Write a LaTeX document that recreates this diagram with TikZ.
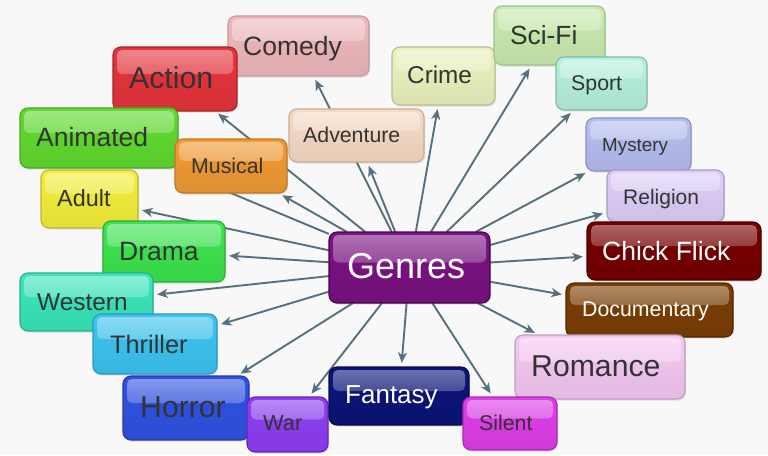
\documentclass[tikz,border=0pt]{standalone}
\usepackage{fontspec}
\setmainfont{Liberation Sans}
\usetikzlibrary{arrows.meta,shadows}
\definecolor{bgc}{HTML}{F8F8F8}
\definecolor{arrc}{HTML}{56707E}
\definecolor{txtd}{HTML}{333333}
\definecolor{cComedy}{HTML}{EEB8BC}\definecolor{bComedy}{HTML}{C49A9E}
\definecolor{cAction}{HTML}{E6343C}\definecolor{bAction}{HTML}{A82428}
\definecolor{cAnimated}{HTML}{60DA2E}\definecolor{bAnimated}{HTML}{48A828}
\definecolor{cMusical}{HTML}{F09A34}\definecolor{bMusical}{HTML}{BE7628}
\definecolor{cAdventure}{HTML}{F6DAC4}\definecolor{bAdventure}{HTML}{C8AC96}
\definecolor{cAdult}{HTML}{F4EE3A}\definecolor{bAdult}{HTML}{BDB440}
\definecolor{cDrama}{HTML}{3CE44E}\definecolor{bDrama}{HTML}{2EAA3C}
\definecolor{cWestern}{HTML}{3AE6BA}\definecolor{bWestern}{HTML}{2AAE8C}
\definecolor{cThriller}{HTML}{3CC4F0}\definecolor{bThriller}{HTML}{2C96C0}
\definecolor{cHorror}{HTML}{3052E2}\definecolor{bHorror}{HTML}{2438A8}
\definecolor{cWar}{HTML}{8E3EF2}\definecolor{bWar}{HTML}{6428B8}
\definecolor{cFantasy}{HTML}{0C1478}\definecolor{bFantasy}{HTML}{060A48}
\definecolor{cSilent}{HTML}{DE3EE8}\definecolor{bSilent}{HTML}{A82AB0}
\definecolor{cRomance}{HTML}{F4C8F2}\definecolor{bRomance}{HTML}{C29CC0}
\definecolor{cDocumentary}{HTML}{7A3E04}\definecolor{bDocumentary}{HTML}{4E2600}
\definecolor{cChick}{HTML}{760000}\definecolor{bChick}{HTML}{4A0000}
\definecolor{cReligion}{HTML}{DECEF8}\definecolor{bReligion}{HTML}{A898CC}
\definecolor{cMystery}{HTML}{B6BEF0}\definecolor{bMystery}{HTML}{8890C4}
\definecolor{cSport}{HTML}{B6F0DE}\definecolor{bSport}{HTML}{84B8A8}
\definecolor{cSciFi}{HTML}{CAEAAE}\definecolor{bSciFi}{HTML}{9CC090}
\definecolor{cCrime}{HTML}{ECF2BE}\definecolor{bCrime}{HTML}{B8BE94}
\definecolor{cGenres}{HTML}{7A1282}\definecolor{bGenres}{HTML}{48004E}
\newcommand\fsSmall{\fontsize{21.3}{24}\selectfont}
\newcommand\fsMid{\fontsize{26.5}{30}\selectfont}
\newcommand\fsBig{\fontsize{30.2}{34}\selectfont}
\tikzset{
  gbox/.style 2 args={rounded corners=8pt, draw=#2, line width=1.1pt,
    top color=#1, bottom color=#1!93!black, inner sep=0pt,
    drop shadow={shadow xshift=1.2pt, shadow yshift=-1.5pt, opacity=0.2},
    path picture={\shade[top color=white, bottom color=#1, opacity=0.42, rounded corners=5pt]
      ([shift={(4pt,-3pt)}]path picture bounding box.north west) rectangle
      ([shift={(-4pt,5pt)}]path picture bounding box.east);}},
  lbl/.style={anchor=base west, inner sep=0pt, text=txtd},
  lblw/.style={anchor=base west, inner sep=0pt, text=white},
  conn/.style={draw=arrc, line width=1.9pt, shorten >=4pt,
    -{Stealth[length=10.5pt, width=9pt, inset=3pt]}},
}
\begin{document}
\begin{tikzpicture}[x=1pt, y=-1pt]
\fill[bgc] (0,0) rectangle (768,455);
\useasboundingbox (0,0) rectangle (768,455);
\path (409.5,267.5) coordinate (gc);
\node[minimum width=161pt, minimum height=71pt, inner sep=0pt] (G) at (gc) {};
\coordinate (cComedyP) at (298.5,46);
\coordinate (cActionP) at (175,79);
\coordinate (cAnimatedP) at (99,138);
\coordinate (cMusicalP) at (231,166);
\coordinate (cAdventureP) at (356.5,135.5);
\coordinate (cAdultP) at (89.5,199);
\coordinate (cDramaP) at (164,251.5);
\coordinate (cWesternP) at (86.5,302);
\coordinate (cThrillerP) at (155,344);
\coordinate (cHorrorP) at (186,408);
\coordinate (cWarP) at (287.5,424.5);
\coordinate (cFantasyP) at (399,396);
\coordinate (cSilentP) at (510,423.5);
\coordinate (cRomanceP) at (600,367);
\coordinate (cDocP) at (649.5,310);
\coordinate (cChickP) at (674,251);
\coordinate (cReligionP) at (665.5,196);
\coordinate (cMysteryP) at (638.5,144.5);
\coordinate (cSportP) at (601.5,83.5);
\coordinate (cSciFiP) at (549.5,35.5);
\coordinate (cCrimeP) at (443.5,76);
\begin{scope}[every node/.style={inner sep=0pt}]
\node[minimum width=141pt, minimum height=60pt] (nComedy) at (cComedyP) {};
\node[minimum width=124pt, minimum height=64pt] (nAction) at (cActionP) {};
\node[minimum width=158pt, minimum height=60pt] (nAnimated) at (cAnimatedP) {};
\node[minimum width=112pt, minimum height=54pt] (nMusical) at (cMusicalP) {};
\node[minimum width=135pt, minimum height=53pt] (nAdventure) at (cAdventureP) {};
\node[minimum width=97pt, minimum height=58pt] (nAdult) at (cAdultP) {};
\node[minimum width=122pt, minimum height=61pt] (nDrama) at (cDramaP) {};
\node[minimum width=133pt, minimum height=58pt] (nWestern) at (cWesternP) {};
\node[minimum width=124pt, minimum height=60pt] (nThriller) at (cThrillerP) {};
\node[minimum width=126pt, minimum height=64pt] (nHorror) at (cHorrorP) {};
\node[minimum width=81pt, minimum height=55pt] (nWar) at (cWarP) {};
\node[minimum width=140pt, minimum height=58pt] (nFantasy) at (cFantasyP) {};
\node[minimum width=94pt, minimum height=53pt] (nSilent) at (cSilentP) {};
\node[minimum width=170pt, minimum height=64pt] (nRomance) at (cRomanceP) {};
\node[minimum width=167pt, minimum height=54pt] (nDoc) at (cDocP) {};
\node[minimum width=174pt, minimum height=58pt] (nChick) at (cChickP) {};
\node[minimum width=117pt, minimum height=52pt] (nReligion) at (cReligionP) {};
\node[minimum width=105pt, minimum height=53pt] (nMystery) at (cMysteryP) {};
\node[minimum width=91pt, minimum height=53pt] (nSport) at (cSportP) {};
\node[minimum width=111pt, minimum height=59pt] (nSciFi) at (cSciFiP) {};
\node[minimum width=103pt, minimum height=58pt] (nCrime) at (cCrimeP) {};
\end{scope}
\foreach \t in {nComedy,nAction,nAnimated,nMusical,nAdventure,nAdult,nDrama,nWestern,nThriller,nHorror,nWar,nFantasy,nSilent,nRomance,nDoc,nChick,nReligion,nMystery,nSport,nSciFi,nCrime}
  \draw[conn] (G) -- (\t);
\node[gbox={cComedy}{bComedy}, minimum width=141pt, minimum height=60pt] (Comedy) at (cComedyP) {};
\node[lbl, font=\fsMid] (tComedy) at (243,55) {Comedy};
\node[gbox={cAction}{bAction}, minimum width=124pt, minimum height=64pt] (Action) at (cActionP) {};
\node[lbl, font=\fsBig] (tAction) at (129,88.3) {Action};
\node[gbox={cAnimated}{bAnimated}, minimum width=158pt, minimum height=60pt] (Animated) at (cAnimatedP) {};
\node[lbl, font=\fsMid] (tAnimated) at (36,146.7) {Animated};
\node[gbox={cMusical}{bMusical}, minimum width=112pt, minimum height=54pt] (Musical) at (cMusicalP) {};
\node[lbl, font=\fsSmall] (tMusical) at (191,173.3) {Musical};
\node[gbox={cAdventure}{bAdventure}, minimum width=135pt, minimum height=53pt] (Adventure) at (cAdventureP) {};
\node[lbl, font=\fsSmall] (tAdventure) at (303,142.7) {Adventure};
\node[gbox={cAdult}{bAdult}, minimum width=97pt, minimum height=58pt] (Adult) at (cAdultP) {};
\node[lbl, font=\fontsize{23.4}{26}\selectfont] (tAdult) at (57,206.7) {Adult};
\node[gbox={cDrama}{bDrama}, minimum width=122pt, minimum height=61pt] (Drama) at (cDramaP) {};
\node[lbl, font=\fsMid] (tDrama) at (119,260) {Drama};
\node[gbox={cWestern}{bWestern}, minimum width=133pt, minimum height=58pt] (Western) at (cWesternP) {};
\node[lbl, font=\fontsize{24.4}{28}\selectfont] (tWestern) at (37,310) {Western};
\node[gbox={cThriller}{bThriller}, minimum width=124pt, minimum height=60pt] (Thriller) at (cThrillerP) {};
\node[lbl, font=\fontsize{25.3}{28}\selectfont] (tThriller) at (110,353.3) {Thriller};
\node[gbox={cHorror}{bHorror}, minimum width=126pt, minimum height=64pt] (Horror) at (cHorrorP) {};
\node[lbl, font=\fsBig] (tHorror) at (140,417.7) {Horror};
\node[gbox={cWar}{bWar}, minimum width=81pt, minimum height=55pt] (War) at (cWarP) {};
\node[lbl, font=\fontsize{21.8}{24}\selectfont] (tWar) at (263,430) {War};
\node[gbox={cFantasy}{bFantasy}, minimum width=140pt, minimum height=58pt] (Fantasy) at (cFantasyP) {};
\node[lblw, font=\fontsize{26}{30}\selectfont] (tFantasy) at (345,403.3) {Fantasy};
\node[gbox={cDocumentary}{bDocumentary}, minimum width=167pt, minimum height=54pt] (Documentary) at (cDocP) {};
\node[lblw, font=\fsSmall] (tDoc) at (582,316.7) {Documentary};
\node[gbox={cRomance}{bRomance}, minimum width=170pt, minimum height=64pt] (Romance) at (cRomanceP) {};
\node[lbl, font=\fsBig] (tRomance) at (531,376.7) {Romance};
\node[gbox={cSilent}{bSilent}, minimum width=94pt, minimum height=53pt] (Silent) at (cSilentP) {};
\node[lbl, font=\fsSmall] (tSilent) at (479,430) {Silent};
\node[gbox={cCrime}{bCrime}, minimum width=103pt, minimum height=58pt] (Crime) at (cCrimeP) {};
\node[lbl, font=\fontsize{24.3}{28}\selectfont] (tCrime) at (407,83.3) {Crime};
\node[gbox={cSciFi}{bSciFi}, minimum width=111pt, minimum height=59pt] (SciFi) at (cSciFiP) {};
\node[lbl, font=\fontsize{26.3}{30}\selectfont] (tSciFi) at (510,44) {Sci-Fi};
\node[gbox={cSport}{bSport}, minimum width=91pt, minimum height=53pt] (Sport) at (cSportP) {};
\node[lbl, font=\fsSmall] (tSport) at (571,90.7) {Sport};
\node[gbox={cMystery}{bMystery}, minimum width=105pt, minimum height=53pt] (Mystery) at (cMysteryP) {};
\node[lbl, font=\fontsize{18.8}{22}\selectfont] (tMystery) at (602,151.7) {Mystery};
\node[gbox={cReligion}{bReligion}, minimum width=117pt, minimum height=52pt] (Religion) at (cReligionP) {};
\node[lbl, font=\fontsize{21}{24}\selectfont] (tReligion) at (623,204) {Religion};
\node[gbox={cChick}{bChick}, minimum width=174pt, minimum height=58pt] (ChickFlick) at (cChickP) {};
\node[lblw, font=\fsMid] (tChick) at (602,260) {Chick Flick};
\node[gbox={cGenres}{bGenres}, minimum width=161pt, minimum height=71pt] (Genres) at (gc) {};
\node[lblw, font=\fontsize{36}{40}\selectfont] (tGenres) at (347,278) {Genres};
\end{tikzpicture}
\end{document}
